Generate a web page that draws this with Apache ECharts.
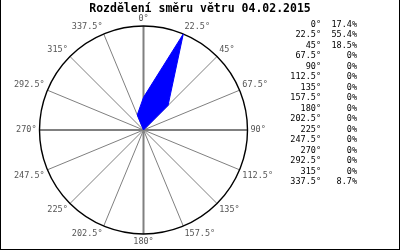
<!DOCTYPE html>
<html>
<head>
<meta charset="utf-8">
<script src="https://cdn.jsdelivr.net/npm/echarts@6/dist/echarts.min.js"></script>
<style>html,body{margin:0;padding:0;background:#fff}#c{width:400px;height:250px}</style>
</head>
<body>
<div id="c"></div>
<script>
const titleText = 'Rozdělení směru větru 04.02.2015';
const directions = [0, 22.5, 45, 67.5, 90, 112.5, 135, 157.5, 180, 202.5, 225, 247.5, 270, 292.5, 315, 337.5];
const shares = [17.4, 55.4, 18.5, 0, 0, 0, 0, 0, 0, 0, 0, 0, 0, 0, 0, 8.7];
const shareLabels = ['17.4%', '55.4%', '18.5%', '0%', '0%', '0%', '0%', '0%', '0%', '0%', '0%', '0%', '0%', '0%', '0%', '8.7%'];
const radiusMax = 55.4;

const FONT = 'DejaVu Sans Mono';
const deg = v => v + '°';
const seriesData = directions.map((d, i) => [shares[i], d]);
seriesData.push([shares[0], 360]);

const chart = echarts.init(document.getElementById('c'), null, {renderer: 'canvas'});
const center = [143.5, 130];
const R = 104;
chart.setOption({
  animation: false,
  backgroundColor: '#fff',
  polar: [{center: center, radius: R}, {center: center, radius: R}],
  angleAxis: [
    {polarIndex: 0, type: 'value', min: 0, max: 360, interval: 22.5, startAngle: 90, clockwise: true,
      axisLine: {show: true, lineStyle: {color: '#000', width: 1.4}},
      axisTick: {show: false},
      axisLabel: {show: true, margin: 3, color: '#555', fontFamily: FONT, fontSize: 8.5, formatter: v => deg(v)},
      splitLine: {show: true, lineStyle: {color: '#808080', width: 1}}},
    {polarIndex: 1, type: 'value', min: 0, max: 360, interval: 90, startAngle: 90, clockwise: true,
      axisLine: {show: false}, axisTick: {show: false}, axisLabel: {show: false},
      splitLine: {show: true, lineStyle: {color: '#808080', width: 2}}}
  ],
  radiusAxis: [
    {polarIndex: 0, min: 0, max: radiusMax, axisLine: {show: false}, axisTick: {show: false}, axisLabel: {show: false}, splitLine: {show: false}},
    {polarIndex: 1, min: 0, max: radiusMax, axisLine: {show: false}, axisTick: {show: false}, axisLabel: {show: false}, splitLine: {show: false}}
  ],
  series: [{
    type: 'line', coordinateSystem: 'polar', polarIndex: 0,
    data: seriesData, showSymbol: false, smooth: false,
    lineStyle: {color: '#0000ff', width: 1},
    areaStyle: {color: '#0000ff', opacity: 1},
    z: 5
  }],
  graphic: [
    {type: 'text', left: 'center', top: 3, style: {text: titleText, font: 'bold 11.5px "DejaVu Sans Mono"', fill: '#000'}},
    {type: 'text', x: 321, y: 19.5, style: {text: directions.map(deg).join('\n'), font: '8.5px "DejaVu Sans Mono"', fill: '#000', align: 'right', verticalAlign: 'top', lineHeight: 10.5}},
    {type: 'text', x: 357, y: 19.5, style: {text: shareLabels.join('\n'), font: '8.5px "DejaVu Sans Mono"', fill: '#000', align: 'right', verticalAlign: 'top', lineHeight: 10.5}},
    {type: 'line', shape: {x1: 0.5, y1: 0, x2: 0.5, y2: 250}, style: {stroke: '#000', lineWidth: 1}},
    {type: 'line', shape: {x1: 399.5, y1: 0, x2: 399.5, y2: 250}, style: {stroke: '#000', lineWidth: 1}},
    {type: 'line', shape: {x1: 0, y1: 249.5, x2: 400, y2: 249.5}, style: {stroke: '#000', lineWidth: 1}}
  ]
});
</script>
</body>
</html>
